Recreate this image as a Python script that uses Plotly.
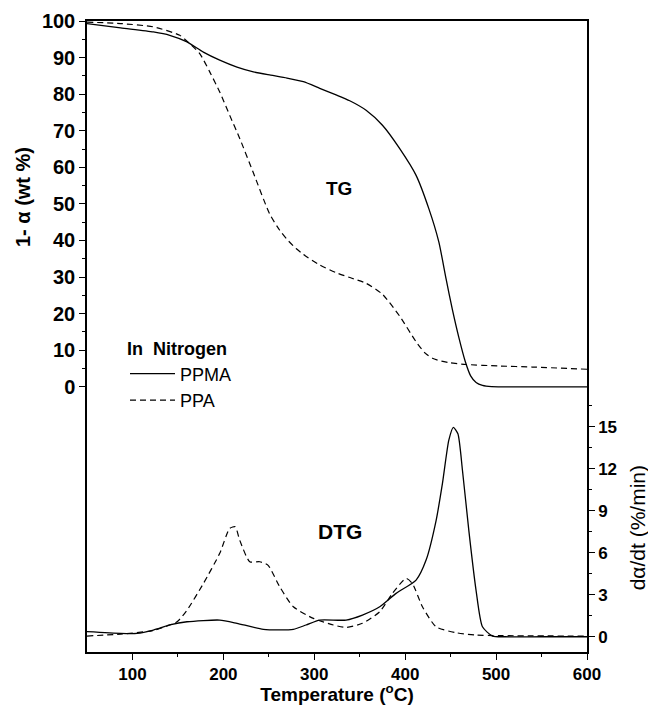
import plotly.graph_objects as go

# ---- TG data (1-alpha, wt %) ----
t_tg_ppma = [50, 87, 123, 141, 160, 178, 196, 215, 233, 252, 270, 288, 306, 324, 339, 357, 375, 394, 412, 426, 437, 445, 452, 459, 466, 472, 478, 485, 495, 510, 600]
tg_ppma = [99.3, 98.1, 97.0, 96.1, 94.3, 91.5, 89.3, 87.4, 86.1, 85.2, 84.4, 83.4, 81.6, 79.8, 78.2, 75.6, 71.5, 65.1, 57.8, 48.7, 39.6, 29.5, 21.0, 13.5, 7.0, 3.0, 1.2, 0.4, 0.05, 0.0, 0.0]

t_tg_ppa = [50, 87, 123, 152, 163, 174, 185, 196, 207, 218, 233, 251, 262, 270, 280, 288, 306, 324, 340, 357, 375, 394, 412, 422, 430, 440, 448, 467, 503, 540, 600]
tg_ppa = [99.7, 99.3, 98.4, 96.1, 93.8, 91.1, 86.1, 80.6, 74.2, 67.9, 58.5, 47.2, 42.8, 40.3, 37.8, 36.2, 33.3, 31.2, 29.8, 28.3, 25.3, 19.3, 12.3, 9.2, 7.8, 7.0, 6.6, 6.1, 5.7, 5.4, 4.8]

# ---- DTG data (d alpha/dt, %/min) ----
t_dtg_ppma = [50, 87, 105, 123, 141, 160, 196, 215, 244, 277, 291, 306, 335, 353, 372, 390, 412, 423, 434, 441, 448, 453, 458, 463, 470, 478, 485, 496, 510, 550, 600]
dtg_ppma = [0.36, 0.24, 0.24, 0.48, 0.84, 1.07, 1.19, 0.96, 0.53, 0.53, 0.84, 1.19, 1.19, 1.55, 2.14, 3.1, 4.05, 5.48, 8.3, 10.96, 14.05, 14.96, 14.5, 11.9, 7.6, 3.3, 0.71, 0.05, 0.0, 0.0, 0.0]

t_dtg_ppa = [50, 87, 123, 149, 160, 178, 196, 207, 213, 218, 229, 240, 249, 262, 277, 299, 321, 335, 353, 372, 386, 401, 408, 419, 434, 456, 478, 600]
dtg_ppa = [0.05, 0.19, 0.45, 1.07, 1.9, 3.8, 5.96, 7.74, 7.86, 6.9, 5.36, 5.36, 5.12, 3.57, 2.14, 1.31, 0.84, 0.67, 0.96, 1.79, 3.1, 4.17, 3.8, 2.14, 0.71, 0.29, 0.12, 0.05]

series_names = ["PPMA", "PPA"]
x_ticks = [100, 200, 300, 400, 500, 600]
tg_ticks = [0, 10, 20, 30, 40, 50, 60, 70, 80, 90, 100]
dtg_ticks = [0, 3, 6, 9, 12, 15]

FONT = "Liberation Sans, Arial, sans-serif"
solid = dict(color="black", width=1.3)
dashed = dict(color="black", width=1.2, dash="6px,4px")

fig = go.Figure()
fig.add_trace(go.Scatter(x=t_tg_ppma, y=tg_ppma, mode="lines", name=series_names[0],
                         line=dict(**solid, shape="spline", smoothing=0.6), legendgroup="a"))
fig.add_trace(go.Scatter(x=t_tg_ppa, y=tg_ppa, mode="lines", name=series_names[1],
                         line=dict(**dashed, shape="spline", smoothing=0.6), legendgroup="b"))
fig.add_trace(go.Scatter(x=t_dtg_ppma, y=dtg_ppma, mode="lines", name=series_names[0], yaxis="y2",
                         line=dict(**solid, shape="spline", smoothing=0.6), legendgroup="a", showlegend=False))
fig.add_trace(go.Scatter(x=t_dtg_ppa, y=dtg_ppa, mode="lines", name=series_names[1], yaxis="y2",
                         line=dict(**dashed, shape="spline", smoothing=0.6), legendgroup="b", showlegend=False))

tickfont = dict(family=FONT, size=17, color="black", weight="bold")

fig.update_layout(
    width=648, height=705,
    margin=dict(l=87, r=61, t=21, b=53, autoexpand=False),
    paper_bgcolor="white", plot_bgcolor="white",
    showlegend=True,
    legend=dict(x=0.076, y=0.507, xanchor="left", yanchor="top",
                bgcolor="rgba(0,0,0,0)", borderwidth=0,
                font=dict(family=FONT, size=18, color="black"),
                title=dict(text="<b>In  Nitrogen</b>", font=dict(family=FONT, size=18, color="black")),
                tracegroupgap=0, itemwidth=45),
    xaxis=dict(range=[50, 600], tickvals=x_ticks, ticks="outside", ticklen=6, tickwidth=1.2,
               tickcolor="black", showline=True, linecolor="black", linewidth=1.5, mirror=True,
               showgrid=False, zeroline=False, tickfont=tickfont, automargin=False,
               minor=dict(tickvals=[150, 250, 350, 450, 550], ticks="outside", ticklen=3,
                          tickcolor="black", showgrid=False),
               title=dict(text="<b>Temperature (<sup>o</sup>C)</b>", standoff=12,
                          font=dict(family=FONT, size=19, color="black"))),
    yaxis=dict(range=[-72.5, 100], tickvals=tg_ticks, ticks="outside", ticklen=6, tickwidth=1.2,
               tickcolor="black", showline=True, linecolor="black", linewidth=1.5, automargin=False,
               showgrid=False, zeroline=False, tickfont=dict(family=FONT, size=20, color="black", weight="bold"),
               minor=dict(tickvals=[5, 15, 25, 35, 45, 55, 65, 75, 85, 95], ticks="outside", ticklen=3,
                          tickcolor="black", showgrid=False)),
    yaxis2=dict(range=[-1.09, 44], overlaying="y", side="right", tickvals=dtg_ticks, ticks="outside",
                ticklen=6, tickwidth=1.2, tickcolor="black", showline=True, linecolor="black", linewidth=1.5,
                showgrid=False, zeroline=False, tickfont=tickfont, automargin=False,
                minor=dict(tickvals=[1.5, 4.5, 7.5, 10.5, 13.5, 16.5], ticks="outside", ticklen=3,
                           tickcolor="black", showgrid=False)),
)

fig.add_annotation(text="<b>1- α (wt %)</b>", xref="paper", yref="paper", x=-0.128, y=0.721,
                   xanchor="center", yanchor="middle",
                   textangle=-90, showarrow=False, font=dict(family=FONT, size=20, color="black"))
fig.add_annotation(text="dα/dt (%/min)", xref="paper", yref="paper", x=1.1, y=0.196,
                   xanchor="center", yanchor="middle",
                   textangle=-90, showarrow=False, font=dict(family=FONT, size=21, color="black"))
fig.add_annotation(text="<b>TG</b>", x=327, y=54.3, xref="x", yref="y", showarrow=False,
                   font=dict(family=FONT, size=19, color="black"))
fig.add_annotation(text="<b>DTG</b>", x=328, y=7.5, xref="x", yref="y2", showarrow=False,
                   font=dict(family=FONT, size=21, color="black"))

fig.write_html("out.html")
